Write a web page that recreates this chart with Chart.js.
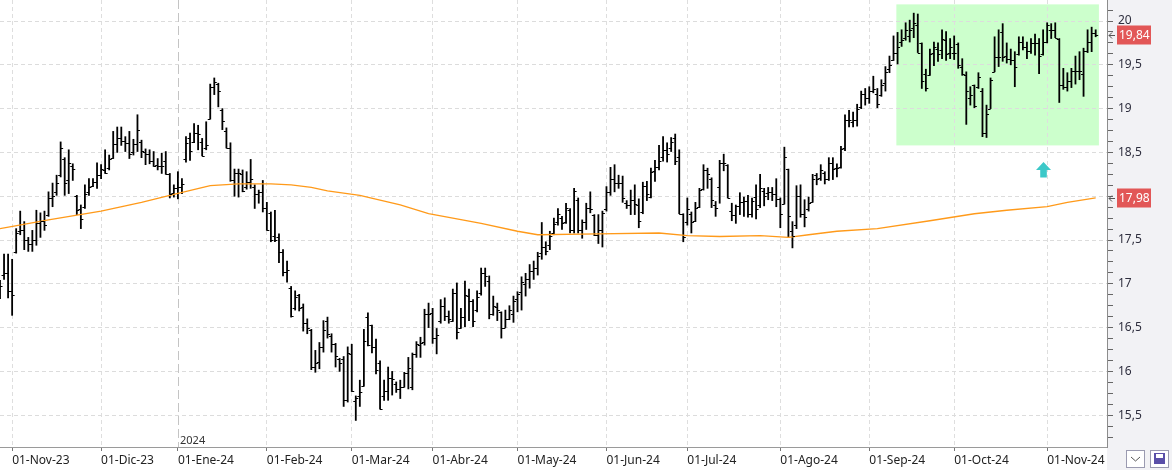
<!DOCTYPE html>
<html>
<head>
<meta charset="utf-8">
<script src="https://cdn.jsdelivr.net/npm/chart.js@4.4.1/dist/chart.umd.min.js"></script>
<style>
  html, body { margin: 0; padding: 0; background: #fff; }
  #wrap { width: 1172px; height: 470px; position: relative; }
</style>
</head>
<body>
<div id="wrap"><canvas id="priceChart"></canvas></div>
<script>
// daily OHLC, one entry per trading session (27-Oct-23 .. 19-Nov-24)
const highs = [
  17.04, 17.34, 17.34, 17.28, 17.63, 17.83, 17.71, 17.53, 17.61, 17.84,
  17.81, 17.83, 18.05, 18.15, 18.24, 18.62, 18.44, 18.53, 18.37, 18.01,
  17.90, 18.13, 18.20, 18.20, 18.38, 18.36, 18.53, 18.47, 18.74, 18.79,
  18.79, 18.68, 18.74, 18.65, 18.93, 18.64, 18.54, 18.53, 18.51, 18.43,
  18.49, 18.51, 18.26, 18.13, 18.28, 18.20, 18.68, 18.72, 18.83, 18.81,
  18.66, 18.85, 19.28, 19.35, 19.29, 19.00, 18.78, 18.61, 18.31, 18.31,
  18.30, 18.28, 18.42, 18.13, 18.07, 18.18, 17.93, 17.82, 17.84, 17.57,
  17.39, 17.26, 16.97, 16.92, 16.88, 16.77, 16.60, 16.48, 16.24, 16.33,
  16.58, 16.62, 16.43, 16.32, 16.15, 16.17, 16.28, 16.31, 15.72, 15.90,
  16.48, 16.67, 16.53, 16.37, 16.12, 15.90, 16.05, 16.00, 15.88, 15.90,
  15.99, 16.16, 16.21, 16.34, 16.39, 16.71, 16.78, 16.72, 16.49, 16.82,
  16.84, 16.69, 16.94, 17.01, 16.72, 17.03, 16.94, 16.82, 16.92, 17.18,
  17.18, 17.09, 16.86, 16.78, 16.68, 16.70, 16.75, 16.86, 16.91, 17.08,
  17.12, 17.22, 17.26, 17.36, 17.70, 17.48, 17.60, 17.75, 17.86, 17.77,
  17.92, 17.86, 18.09, 17.98, 17.73, 17.92, 18.05, 17.79, 17.79, 17.83,
  18.11, 18.33, 18.36, 18.24, 18.23, 17.95, 18.07, 18.13, 17.97, 18.16,
  18.17, 18.32, 18.41, 18.58, 18.68, 18.61, 18.67, 18.71, 18.53, 17.80,
  17.98, 17.82, 17.93, 18.09, 18.36, 18.32, 18.21, 17.94, 18.41, 18.48,
  18.36, 17.92, 17.90, 18.04, 17.99, 18.01, 17.98, 18.13, 18.25, 18.09,
  18.10, 18.10, 18.20, 17.98, 18.56, 18.31, 17.71, 18.12, 18.13, 17.96,
  17.99, 18.25, 18.26, 18.36, 18.28, 18.44, 18.44, 18.37, 18.57, 18.93,
  18.98, 18.96, 19.05, 19.20, 19.23, 19.25, 19.37, 19.23, 19.33, 19.48,
  19.60, 19.83, 19.87, 19.90, 19.98, 20.01, 20.09, 20.08, 19.75, 19.45,
  19.68, 19.76, 19.75, 19.90, 19.88, 19.80, 19.83, 19.75, 19.57, 19.42,
  19.25, 19.27, 19.41, 19.23, 19.04, 19.35, 19.82, 19.90, 19.97, 19.75,
  19.68, 19.65, 19.82, 19.82, 19.76, 19.80, 19.85, 19.80, 19.90, 19.98,
  19.97, 19.98, 19.80, 19.46, 19.41, 19.46, 19.60, 19.65, 19.69, 19.90,
  19.93, 19.90
];
const lows = [
  16.83, 17.05, 16.84, 16.64, 17.35, 17.56, 17.39, 17.37, 17.37, 17.44,
  17.53, 17.61, 17.77, 17.88, 18.01, 18.22, 18.01, 18.03, 18.18, 17.79,
  17.63, 17.86, 18.01, 18.11, 18.09, 18.20, 18.26, 18.30, 18.43, 18.50,
  18.58, 18.51, 18.43, 18.47, 18.51, 18.44, 18.36, 18.37, 18.34, 18.30,
  18.26, 18.25, 17.98, 17.99, 17.97, 18.03, 18.39, 18.41, 18.61, 18.53,
  18.46, 18.53, 18.88, 19.16, 19.02, 18.76, 18.55, 18.17, 18.00, 17.99,
  18.05, 18.08, 18.09, 17.86, 17.92, 17.82, 17.61, 17.48, 17.48, 17.24,
  17.09, 17.02, 16.62, 16.70, 16.69, 16.46, 16.43, 16.02, 15.99, 16.03,
  16.22, 16.38, 16.22, 16.05, 16.00, 15.60, 15.65, 15.77, 15.44, 15.60,
  15.83, 16.29, 16.21, 15.97, 15.57, 15.67, 15.67, 15.73, 15.76, 15.69,
  15.82, 15.80, 15.79, 16.16, 16.16, 16.30, 16.50, 16.32, 16.20, 16.55,
  16.58, 16.55, 16.57, 16.37, 16.49, 16.51, 16.58, 16.51, 16.68, 16.87,
  16.97, 16.60, 16.64, 16.58, 16.38, 16.50, 16.59, 16.56, 16.68, 16.70,
  16.86, 16.95, 17.05, 17.10, 17.28, 17.33, 17.39, 17.56, 17.67, 17.62,
  17.69, 17.58, 17.58, 17.58, 17.52, 17.62, 17.81, 17.55, 17.46, 17.42,
  17.83, 18.01, 18.05, 18.09, 17.93, 17.86, 17.79, 17.79, 17.64, 17.80,
  17.95, 17.98, 18.17, 18.30, 18.40, 18.39, 18.51, 18.36, 17.80, 17.48,
  17.67, 17.58, 17.71, 17.87, 18.07, 18.09, 17.87, 17.77, 17.92, 18.29,
  17.98, 17.72, 17.69, 17.79, 17.77, 17.76, 17.76, 17.74, 17.87, 17.89,
  17.96, 17.95, 17.88, 17.64, 17.91, 17.53, 17.41, 17.63, 17.76, 17.65,
  17.83, 17.93, 18.13, 18.18, 18.14, 18.18, 18.19, 18.22, 18.32, 18.52,
  18.79, 18.79, 18.80, 19.00, 19.04, 19.06, 19.18, 19.01, 19.14, 19.20,
  19.41, 19.55, 19.51, 19.71, 19.78, 19.76, 19.81, 19.64, 19.23, 19.20,
  19.38, 19.49, 19.54, 19.57, 19.55, 19.57, 19.56, 19.46, 19.38, 18.82,
  19.04, 19.01, 19.23, 18.68, 18.67, 19.00, 19.42, 19.48, 19.54, 19.52,
  19.50, 19.25, 19.61, 19.67, 19.57, 19.63, 19.61, 19.40, 19.61, 19.75,
  19.80, 19.81, 19.07, 19.22, 19.20, 19.24, 19.28, 19.33, 19.14, 19.64,
  19.65, 19.82
];
const opens = [
  16.90, 17.10, 17.12, 16.92, 17.36, 17.60, 17.62, 17.50, 17.46, 17.50,
  17.69, 17.72, 17.78, 17.98, 18.05, 18.24, 18.42, 18.18, 18.35, 18.00,
  17.85, 17.88, 18.05, 18.12, 18.16, 18.24, 18.30, 18.32, 18.44, 18.60,
  18.66, 18.63, 18.61, 18.50, 18.60, 18.62, 18.50, 18.48, 18.40, 18.36,
  18.34, 18.40, 18.25, 18.04, 18.09, 18.10, 18.42, 18.66, 18.62, 18.72,
  18.62, 18.55, 18.88, 19.25, 19.28, 18.98, 18.75, 18.55, 18.18, 18.26,
  18.25, 18.10, 18.16, 18.10, 18.03, 18.05, 17.87, 17.81, 17.55, 17.54,
  17.36, 17.14, 16.95, 16.72, 16.87, 16.74, 16.55, 16.47, 16.05, 16.11,
  16.28, 16.57, 16.40, 16.31, 16.14, 16.14, 15.67, 16.20, 15.66, 15.72,
  15.83, 16.62, 16.53, 16.28, 16.10, 15.72, 15.78, 15.92, 15.86, 15.80,
  15.82, 15.98, 15.82, 16.20, 16.30, 16.33, 16.66, 16.67, 16.38, 16.58,
  16.75, 16.63, 16.57, 16.90, 16.50, 16.62, 16.86, 16.80, 16.70, 16.90,
  17.12, 17.03, 16.66, 16.74, 16.68, 16.50, 16.60, 16.66, 16.83, 16.91,
  17.00, 17.05, 17.15, 17.18, 17.35, 17.42, 17.44, 17.58, 17.70, 17.75,
  17.70, 17.84, 17.62, 17.96, 17.62, 17.70, 17.87, 17.78, 17.56, 17.62,
  17.85, 18.05, 18.20, 18.15, 18.15, 17.92, 17.90, 17.96, 17.90, 17.82,
  18.12, 17.99, 18.29, 18.33, 18.45, 18.53, 18.55, 18.66, 18.45, 17.80,
  17.71, 17.80, 17.72, 17.88, 18.08, 18.30, 18.20, 17.90, 18.11, 18.38,
  18.36, 17.83, 17.78, 17.89, 17.93, 17.95, 17.80, 17.99, 17.90, 18.06,
  18.04, 18.05, 18.02, 17.97, 17.91, 18.31, 17.60, 17.67, 18.00, 17.80,
  17.85, 17.93, 18.24, 18.21, 18.27, 18.20, 18.38, 18.32, 18.33, 18.55,
  18.87, 18.85, 18.87, 19.02, 19.17, 19.12, 19.20, 19.17, 19.15, 19.29,
  19.45, 19.55, 19.64, 19.76, 19.81, 19.83, 19.92, 19.95, 19.75, 19.40,
  19.38, 19.64, 19.68, 19.67, 19.78, 19.64, 19.63, 19.74, 19.48, 19.38,
  19.12, 19.27, 19.25, 19.20, 18.72, 19.00, 19.42, 19.59, 19.88, 19.60,
  19.57, 19.56, 19.62, 19.76, 19.70, 19.66, 19.75, 19.75, 19.62, 19.76,
  19.90, 19.90, 19.80, 19.27, 19.25, 19.32, 19.43, 19.43, 19.40, 19.66,
  19.76, 19.86
];
const closes = [
  16.98, 17.12, 16.92, 16.87, 17.58, 17.62, 17.50, 17.46, 17.50, 17.69,
  17.72, 17.67, 17.98, 18.00, 18.15, 18.55, 18.15, 18.38, 18.31, 17.84,
  17.74, 18.03, 18.10, 18.16, 18.24, 18.31, 18.27, 18.42, 18.60, 18.66,
  18.63, 18.61, 18.48, 18.60, 18.76, 18.52, 18.48, 18.40, 18.35, 18.34,
  18.34, 18.25, 18.03, 18.09, 18.10, 18.14, 18.61, 18.52, 18.72, 18.71,
  18.46, 18.58, 19.25, 19.30, 19.20, 18.86, 18.55, 18.18, 18.26, 18.26,
  18.06, 18.16, 18.20, 18.03, 18.05, 17.87, 17.62, 17.50, 17.50, 17.36,
  17.14, 17.16, 16.63, 16.85, 16.72, 16.55, 16.50, 16.05, 16.10, 16.28,
  16.47, 16.43, 16.31, 16.18, 16.10, 15.67, 16.21, 15.78, 15.70, 15.77,
  16.35, 16.30, 16.28, 16.02, 15.57, 15.78, 15.92, 15.91, 15.80, 15.82,
  15.98, 16.04, 16.20, 16.31, 16.32, 16.66, 16.66, 16.38, 16.42, 16.75,
  16.63, 16.60, 16.90, 16.45, 16.62, 16.87, 16.80, 16.57, 16.85, 17.12,
  17.09, 16.65, 16.75, 16.70, 16.50, 16.60, 16.70, 16.80, 16.88, 17.02,
  17.05, 17.15, 17.18, 17.32, 17.42, 17.37, 17.55, 17.68, 17.80, 17.69,
  17.87, 17.62, 18.06, 17.62, 17.70, 17.87, 17.85, 17.56, 17.61, 17.81,
  18.05, 18.20, 18.15, 18.15, 17.98, 17.90, 17.96, 17.91, 17.72, 18.12,
  18.03, 18.28, 18.33, 18.40, 18.53, 18.48, 18.62, 18.40, 17.80, 17.53,
  17.85, 17.71, 17.87, 18.07, 18.30, 18.25, 17.96, 17.87, 18.38, 18.38,
  17.98, 17.78, 17.89, 17.93, 17.95, 17.80, 17.95, 17.85, 18.09, 18.00,
  18.05, 18.02, 17.97, 17.80, 18.45, 17.77, 17.55, 18.00, 17.80, 17.76,
  17.92, 18.20, 18.20, 18.30, 18.20, 18.38, 18.31, 18.32, 18.54, 18.87,
  18.87, 18.87, 18.99, 19.17, 19.12, 19.20, 19.22, 19.05, 19.27, 19.42,
  19.50, 19.64, 19.70, 19.78, 19.90, 19.90, 19.98, 19.64, 19.31, 19.23,
  19.62, 19.70, 19.62, 19.80, 19.62, 19.70, 19.63, 19.50, 19.40, 19.20,
  19.15, 19.03, 19.36, 18.72, 18.94, 19.33, 19.59, 19.59, 19.59, 19.57,
  19.56, 19.48, 19.76, 19.70, 19.66, 19.75, 19.75, 19.60, 19.76, 19.95,
  19.90, 19.81, 19.27, 19.25, 19.32, 19.43, 19.43, 19.43, 19.66, 19.76,
  19.86, 19.84
];

// moving average, read at these session numbers
const maSessions = [0, 12, 25, 35, 43, 52, 59, 67, 72, 77, 81, 89, 99, 106, 119, 128,
  133, 148, 163, 170, 178, 188, 195, 200, 207, 217, 230, 241, 249, 259, 264, 271];
const maValues = [17.63, 17.73, 17.83, 17.93, 18.02, 18.12, 18.14, 18.14, 18.13, 18.10,
  18.06, 18.01, 17.90, 17.80, 17.69, 17.60, 17.56, 17.57, 17.58, 17.55, 17.54, 17.55,
  17.53, 17.56, 17.60, 17.63, 17.72, 17.80, 17.84, 17.88, 17.93, 17.98];

// first session of each month
const monthStarts = [3, 25, 44, 66, 87, 107, 128, 150, 170, 193, 215, 236, 259];
const monthLabels = ["01-Nov-23", "01-Dic-23", "01-Ene-24", "01-Feb-24", "01-Mar-24",
  "01-Abr-24", "01-May-24", "01-Jun-24", "01-Jul-24", "01-Ago-24", "01-Sep-24",
  "01-Oct-24", "01-Nov-24"];
const yearStart = 44;
const yearLabel = "2024";

// highlighted zone and signal arrow (in sessions / price)
const zone = { from: 221.7, to: 271.8, top: 20.19, bottom: 18.58 };
const signal = { session: 258.1, price: 18.39 };

const FONT = "'Noto Sans', 'DejaVu Sans', sans-serif";
const fmt = (v) => String(v).replace(".", ",");
const isMajor = (v) => Math.abs(v * 2 - Math.round(v * 2)) < 1e-6;

const chartDecor = {
  id: "chartDecor",
  beforeDraw(chart) {
    const { ctx, chartArea: a, scales: { x, y } } = chart;
    ctx.save();
    ctx.fillStyle = "#fff";
    ctx.fillRect(0, 0, chart.width, chart.height);
    ctx.fillStyle = "#f2f2f5";
    ctx.fillRect(a.right, 0, chart.width - a.right, chart.height);
    // green zone
    ctx.fillStyle = "#ccffcc";
    const zx1 = x.getPixelForValue(zone.from);
    const zx2 = x.getPixelForValue(zone.to);
    const zy1 = y.getPixelForValue(zone.top);
    const zy2 = y.getPixelForValue(zone.bottom);
    ctx.fillRect(zx1, zy1, zx2 - zx1, zy2 - zy1);
    ctx.restore();
  },
  beforeDatasetsDraw(chart) {
    const { ctx, chartArea: a, scales: { x } } = chart;
    const px = Math.round(x.getPixelForValue(yearStart)) + 0.5;
    ctx.save();
    ctx.strokeStyle = "#c4c4c4";
    ctx.lineWidth = 1;
    ctx.setLineDash([9, 4]);
    ctx.beginPath();
    ctx.moveTo(px, a.top);
    ctx.lineTo(px, a.bottom);
    ctx.stroke();
    ctx.setLineDash([]);
    ctx.fillStyle = "#333";
    ctx.font = "11px " + FONT;
    ctx.textBaseline = "alphabetic";
    ctx.fillText(yearLabel, px + 1.5, a.bottom - 3);
    ctx.restore();
  },
  afterDatasetsDraw(chart) {
    const { ctx, chartArea: a, scales: { x, y } } = chart;
    ctx.save();
    ctx.beginPath();
    ctx.rect(a.left, a.top, a.right - a.left, a.bottom - a.top);
    ctx.clip();
    // open / close ticks
    ctx.strokeStyle = "#000";
    ctx.lineWidth = 1;
    ctx.beginPath();
    opens.forEach((o, i) => {
      const px = x.getPixelForValue(i);
      const yo = Math.round(y.getPixelForValue(o)) + 0.5;
      const yc = Math.round(y.getPixelForValue(closes[i])) + 0.5;
      ctx.moveTo(px - 2.5, yo);
      ctx.lineTo(px, yo);
      ctx.moveTo(px, yc);
      ctx.lineTo(px + 2.5, yc);
    });
    ctx.stroke();
    // signal arrow
    const sx = x.getPixelForValue(signal.session);
    const sy = y.getPixelForValue(signal.price);
    ctx.fillStyle = "#3cc8c8";
    ctx.beginPath();
    ctx.moveTo(sx, sy);
    ctx.lineTo(sx + 7.5, sy + 8);
    ctx.lineTo(sx + 3.3, sy + 8);
    ctx.lineTo(sx + 3.3, sy + 15.5);
    ctx.lineTo(sx - 3.3, sy + 15.5);
    ctx.lineTo(sx - 3.3, sy + 8);
    ctx.lineTo(sx - 7.5, sy + 8);
    ctx.closePath();
    ctx.fill();
    ctx.restore();
  },
  afterDraw(chart) {
    const { ctx, chartArea: a, scales: { y } } = chart;
    ctx.save();
    const tags = [closes[closes.length - 1], maValues[maValues.length - 1]];
    tags.forEach((v) => {
      const ty = Math.round(y.getPixelForValue(v));
      ctx.fillStyle = "#e25757";
      ctx.fillRect(a.right + 10, ty - 9.5, 34, 19);
      ctx.fillStyle = "#fff";
      ctx.font = "12px " + FONT;
      ctx.textAlign = "left";
      ctx.textBaseline = "middle";
      ctx.fillText(v.toFixed(2).replace(".", ","), a.right + 12, ty + 0.5);
      ctx.strokeStyle = "#555";
      ctx.lineWidth = 1;
      ctx.beginPath();
      ctx.moveTo(a.right + 8, ty + 0.5);
      ctx.lineTo(a.right + 2, ty + 0.5);
      ctx.moveTo(a.right + 5, ty - 2.5);
      ctx.lineTo(a.right + 2, ty + 0.5);
      ctx.lineTo(a.right + 5, ty + 3.5);
      ctx.stroke();
    });
    // scroll / save buttons in the corner
    ctx.strokeStyle = "#9a9ab0";
    ctx.fillStyle = "#fff";
    ctx.fillRect(1126.5, 450.5, 18, 17);
    ctx.strokeRect(1126.5, 450.5, 18, 17);
    ctx.fillRect(1150.5, 450.5, 18, 17);
    ctx.strokeRect(1150.5, 450.5, 18, 17);
    ctx.strokeStyle = "#555";
    ctx.beginPath();
    ctx.moveTo(1131, 457); ctx.lineTo(1135.5, 461); ctx.lineTo(1140, 457);
    ctx.stroke();
    ctx.fillStyle = "#5a4fa8";
    ctx.fillRect(1154, 453, 11, 11);
    ctx.fillStyle = "#fff";
    ctx.fillRect(1156, 454, 7, 4);
    ctx.restore();
  }
};

new Chart(document.getElementById("priceChart"), {
  type: "bar",
  data: {
    datasets: [
      {
        type: "line",
        label: "media",
        data: maSessions.map((s, i) => ({ x: s, y: maValues[i] })),
        borderColor: "#ff9a1a",
        borderWidth: 1.3,
        pointRadius: 0,
        tension: 0,
        order: 1
      },
      {
        type: "bar",
        label: "precio",
        data: highs.map((h, i) => ({ x: i, y: [lows[i], h] })),
        backgroundColor: "#000",
        barThickness: 1.15,
        grouped: false,
        order: 2
      }
    ]
  },
  options: {
    responsive: true,
    maintainAspectRatio: false,
    animation: false,
    layout: { padding: 0 },
    plugins: {
      legend: { display: false },
      tooltip: { enabled: false }
    },
    scales: {
      x: {
        type: "linear",
        offset: false,
        min: 0,
        max: 273.8,
        afterBuildTicks: (scale) => {
          scale.ticks = monthStarts.map((v) => ({ value: v }));
        },
        afterFit: (scale) => {
          scale.height = 23;
          scale.paddingLeft = 0;
          scale.paddingRight = 0;
        },
        grid: {
          offset: false,
          color: (c) => (c.tick && c.tick.value === yearStart ? "rgba(0,0,0,0)" : "#dedede"),
          tickColor: "#777",
          tickLength: 4
        },
        border: { color: "#9a9a9a", dash: [4, 3] },
        ticks: {
          align: "start",
          padding: 2,
          autoSkip: false,
          maxRotation: 0,
          color: "#222",
          font: { family: FONT, size: 12 },
          callback: (value, index) => monthLabels[index]
        }
      },
      y: {
        position: "right",
        min: 15.137,
        max: 20.24,
        afterBuildTicks: (scale) => {
          const t = [];
          for (let v = 15.25; v <= 20.2; v += 0.125) t.push({ value: v });
          scale.ticks = t;
        },
        afterFit: (scale) => {
          scale.width = 65;
          scale.paddingTop = 0;
          scale.paddingBottom = 0;
        },
        grid: {
          color: (c) => (c.tick && isMajor(c.tick.value) ? "#dcdcdc" : "rgba(0,0,0,0)"),
          tickColor: "#666",
          tickLength: 6
        },
        border: { color: "#8c8c8c", dash: [4, 3] },
        ticks: {
          padding: 5,
          autoSkip: false,
          color: "#2e2e3e",
          font: { family: FONT, size: 12 },
          callback: (value) => (isMajor(value) ? fmt(value) : "")
        }
      }
    }
  },
  plugins: [chartDecor]
});
</script>
</body>
</html>
